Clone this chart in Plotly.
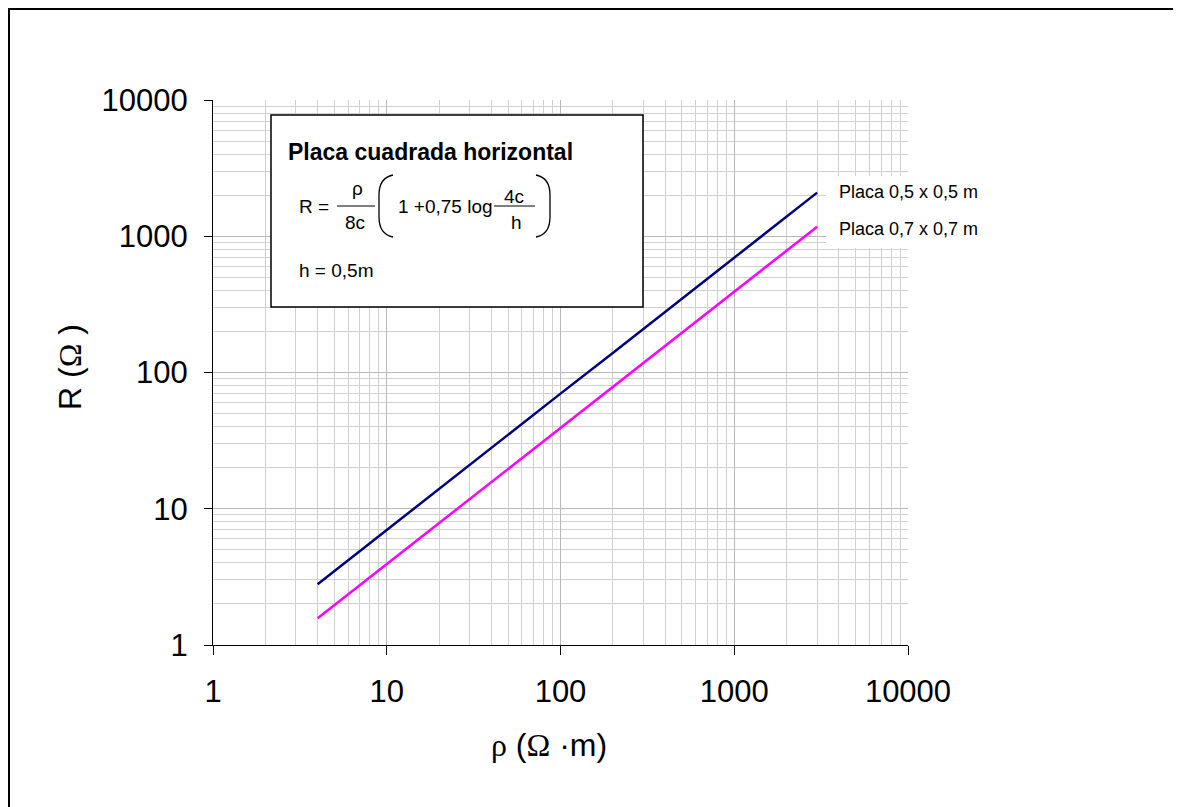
import plotly.graph_objects as go

# ---- data ----
rho = [4, 10, 20, 50, 100, 200, 500, 1000, 2000, 3000]
r_05 = [2.79, 7.0, 14.0, 35.0, 70.0, 139, 348, 697, 1393, 2090]
r_07 = [1.57, 3.92, 7.85, 19.6, 39.2, 78.4, 196, 392, 784, 1175]
series_names = ["Placa 0,5 x 0,5 m", "Placa 0,7 x 0,7 m"]
tick_vals = [1, 10, 100, 1000, 10000]
tick_text = ["1", "10", "100", "1000", "10000"]
minor_vals = [m * 10 ** d for d in range(4) for m in range(2, 10)]

OFF = 8  # page body margin
W, H = 1181 - OFF, 807 - OFF
# plot area in screen pixels
L, R, T, B = 213, 908, 100, 645
PW, PH = R - L, B - T


def px(x):
    return (x - L) / PW


def py(y):
    return (B - y) / PH


FONT = "Liberation Sans, Arial, sans-serif"
SERIF = "Liberation Serif, Times New Roman, serif"

fig = go.Figure()
fig.add_trace(go.Scatter(x=rho, y=r_05, mode="lines", name=series_names[0],
                         line=dict(color="#000080", width=2.5)))
fig.add_trace(go.Scatter(x=rho, y=r_07, mode="lines", name=series_names[1],
                         line=dict(color="#FF00FF", width=2.5)))

axis_common = dict(
    type="log", range=[0, 4], tickmode="array", tickvals=tick_vals, ticktext=tick_text,
    showgrid=True, gridcolor="#b8b8b8", gridwidth=1,
    minor=dict(tickvals=minor_vals, showgrid=True, gridcolor="#d0d0d0", gridwidth=1, ticks=""),
    showline=True, linecolor="black", linewidth=1,
    ticks="outside", tickcolor="black", tickwidth=1,
    tickfont=dict(family=FONT, size=31, color="black"),
    zeroline=False, mirror=False, fixedrange=True,
)

fig.update_xaxes(**axis_common, ticklen=9, ticklabelstandoff=10)
fig.update_yaxes(**axis_common, ticklen=8, ticklabelstandoff=10)

shapes = []
# outer chart border (kept just inside the figure)
shapes.append(dict(type="rect", xref="paper", yref="paper",
                   x0=px(OFF + 1), x1=px(1178), y0=py(815), y1=py(OFF + 1),
                   line=dict(color="black", width=2), fillcolor="rgba(0,0,0,0)", layer="above"))
# legend background
shapes.append(dict(type="rect", xref="paper", yref="paper",
                   x0=px(826), x1=px(990), y0=py(248), y1=py(176),
                   line=dict(width=0), fillcolor="white", layer="above"))
# formula box
shapes.append(dict(type="rect", xref="paper", yref="paper",
                   x0=px(271), x1=px(643), y0=py(307), y1=py(115),
                   line=dict(color="black", width=1.5), fillcolor="white", layer="above"))
# fraction bars
for x0, x1 in [(337, 375), (494, 535)]:
    shapes.append(dict(type="line", xref="paper", yref="paper",
                       x0=px(x0), x1=px(x1), y0=py(206), y1=py(206),
                       line=dict(color="black", width=1), layer="above"))


def path(pts):
    s = ""
    for cmd, coords in pts:
        s += cmd + " " + " ".join(f"{px(a):.5f},{py(b):.5f}" for a, b in coords) + " "
    return s.strip()


# big parentheses
lp = path([("M", [(393, 175)]), ("C", [(383, 177), (379, 185), (379, 195)]),
           ("L", [(379, 217)]), ("C", [(379, 227), (383, 235), (393, 237)])])
rp = path([("M", [(536, 175)]), ("C", [(546, 177), (550, 185), (550, 195)]),
           ("L", [(550, 217)]), ("C", [(550, 227), (546, 235), (536, 237)])])
for p in (lp, rp):
    shapes.append(dict(type="path", xref="paper", yref="paper", path=p,
                       line=dict(color="black", width=1.3), layer="above"))

ann = []


def text(t, x, y, size, xanchor="left", yanchor="middle", family=FONT, angle=0):
    ann.append(dict(text=t, xref="paper", yref="paper", x=px(x), y=py(y),
                    xanchor=xanchor, yanchor=yanchor, showarrow=False, textangle=angle,
                    font=dict(family=family, size=size, color="black")))


text("<b>Placa cuadrada horizontal</b>", 286, 152, 23)
text("R =", 297, 207, 19)
text("ρ", 357, 189, 19, xanchor="center")
text("8c", 355, 222, 19, xanchor="center")
text("1 +0,75 log", 396, 207, 19)
text("4c", 514, 196, 19, xanchor="center")
text("h", 516, 222, 19, xanchor="center")
text("h = 0,5m", 297, 270, 19)

text(series_names[0], 837, 192, 18)
text(series_names[1], 837, 229, 18)

text(f'R (<span style="font-family:{SERIF}">Ω</span> )', 70, 367, 32,
     xanchor="center", angle=-90)
text(f'<span style="font-family:{SERIF}">ρ</span> (<span style="font-family:{SERIF}">Ω</span> ·m)',
     549, 745, 32, xanchor="center")

fig.update_layout(
    width=W, height=H, autosize=False,
    margin=dict(l=L - OFF, r=W - (R - OFF), t=T - OFF, b=H - (B - OFF), pad=0),
    paper_bgcolor="white", plot_bgcolor="white",
    showlegend=False, shapes=shapes, annotations=ann,
    font=dict(family=FONT, color="black"),
)

fig.write_html("out.html")
